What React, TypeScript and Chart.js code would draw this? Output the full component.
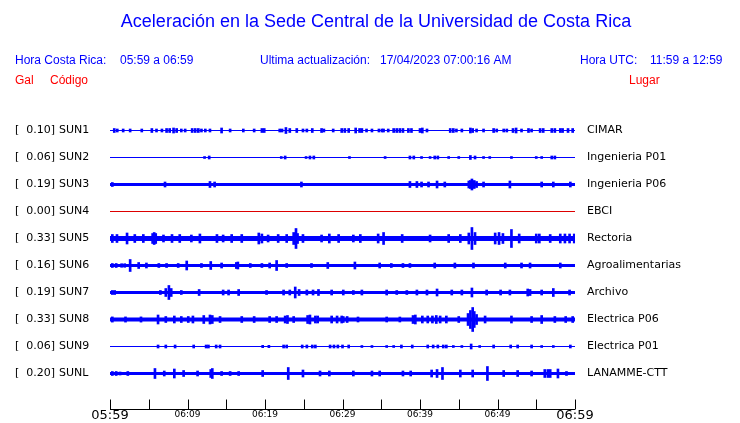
import { useEffect, useRef } from 'react';
import { Chart, registerables } from 'chart.js';

Chart.register(...registerables);

// ---- data ----
const titleText = 'Aceleración en la Sede Central de la Universidad de Costa Rica';
const codes = ['SUN1', 'SUN2', 'SUN3', 'SUN4', 'SUN5', 'SUN6', 'SUN7', 'SUN8', 'SUN9', 'SUNL'];
const peakGal = ['0.10', '0.06', '0.19', '0.00', '0.33', '0.16', '0.19', '0.33', '0.06', '0.20'];
const places = ['CIMAR', 'Ingenieria P01', 'Ingenieria P06', 'EBCI', 'Rectoria', 'Agroalimentarias', 'Archivo', 'Electrica P06', 'Electrica P01', 'LANAMME-CTT'];
const tickMinutes = [0, 10, 20, 30, 40, 50, 60];
const tickLabels = ['05:59', '06:09', '06:19', '06:29', '06:39', '06:49', '06:59'];

// background (noise) half-amplitude of each trace, amplitude units
const noiseLevel = [0.5, 0.5, 1.5, 0.5, 2.5, 1.5, 1.5, 2, 0.5, 1.5];

// bursts: [minute after 05:59, half-amplitude]
const sun1 = [[0.55,2],[0.94,1.5],[1.7,1.5],[2.6,1.5],[4.1,1.5],[5.4,2],[6.0,1.5],[6.7,1.5],[7.3,2],[7.7,2],[8.2,2.5],[8.6,2],[9.2,1.5],[9.7,1.5],[10.6,2],[11.0,2],[11.4,2],[11.8,1.5],[12.3,1.5],[12.9,1.5],[14.4,2.5],[15.5,1.5],[17.2,1.5],[18.6,1.5],[19.6,2],[19.9,2],[21.9,1.5],[22.2,1.5],[22.7,3],[23.2,2],[24.1,2],[24.9,1.5],[25.4,1.5],[26.1,2],[27.3,2],[27.6,1.5],[28.8,1.5],[29.9,2],[30.3,2],[30.8,2],[31.7,2.5],[32.2,2],[32.5,2],[33.1,1.5],[33.8,1.5],[34.7,1.5],[35.1,1.5],[35.3,1.5],[35.9,1.5],[36.6,2],[37.0,2],[37.4,2],[37.8,2],[38.5,2],[38.9,2],[40.0,2],[40.3,2.5],[40.9,1.5],[43.9,2],[44.3,2],[44.7,1.5],[45.4,1.5],[46.5,2.5],[46.8,2],[47.3,1.5],[48.2,1.5],[49.5,2],[49.9,1.5],[50.8,1.5],[51.2,1.5],[52.0,2],[52.4,2.5],[53.1,1.5],[54.0,2],[54.4,1.5],[55.5,2],[55.9,2],[57.0,2],[57.4,2],[58.1,2],[58.4,2],[59.1,2],[59.7,2]];
const sun2 = [[12.2,1],[12.8,1.5],[22.1,1],[22.6,1.5],[25.3,1],[25.8,1.5],[26.3,1.5],[30.9,1],[35.5,1],[38.7,1.5],[39.2,1.5],[40.2,1],[41.3,1],[41.9,1.5],[42.3,1.5],[43.7,1],[45.0,1],[46.5,2],[47.1,1.5],[48.2,1],[49.0,1],[51.8,1],[55.0,1],[55.7,1],[57.0,1.5],[57.4,1.5]];
const sun3 = [[0.3,2],[7.1,2.5],[12.9,3],[13.5,2.5],[24.7,2.5],[38.7,3],[39.6,3],[40.2,2.5],[41.1,2.5],[42.2,3.5],[43.2,2.5],[46.3,3.5],[46.5,4],[46.7,5.5],[47.0,4],[47.3,3],[48.2,2.5],[51.6,3.5],[55.7,2.5],[57.2,2.5],[59.4,2.5]];
const sun4: number[][] = [];
const sun5 = [[0.3,4],[0.9,4],[2.2,5.5],[3.2,4],[4.3,4],[5.5,5],[5.7,6],[5.9,5],[6.9,3.5],[8.0,4],[9.0,4],[10.5,3.5],[11.6,4.5],[13.8,4],[14.6,3.5],[15.7,4],[17.0,4],[19.2,5.5],[19.6,4.5],[20.4,3.5],[21.7,4],[22.8,4],[23.7,6],[24.0,10],[24.2,5],[24.9,4],[27.3,3.5],[28.3,4.5],[29.5,4],[31.4,3.5],[32.3,4],[34.6,4.5],[35.3,6],[37.7,4],[41.3,3.5],[43.7,4],[45.2,4],[46.3,5.5],[46.7,11],[47.1,6],[49.7,5.5],[50.2,6],[50.7,5],[51.8,9],[52.8,4.5],[55.0,4.5],[55.4,4.5],[56.8,4],[58.1,4.5],[58.7,4.5],[59.3,4.5],[59.9,4.5]];
const sun6 = [[0.3,2],[0.8,2],[1.5,1.8],[1.9,1.8],[2.6,6],[3.7,3],[4.7,2.5],[6.3,2],[7.3,2],[8.8,2],[9.9,4.5],[11.8,2],[13.0,4],[14.4,2.5],[16.3,3],[16.5,3.5],[18.1,2],[19.6,2],[20.6,2.5],[21.5,5],[22.8,2],[26.0,2],[28.1,3],[31.6,3.5],[34.8,2.5],[36.3,2],[37.8,2],[38.7,2],[41.9,2.5],[44.5,2.5],[46.9,2.5],[51.0,2.5],[53.1,2.5],[54.2,2.5],[58.1,2.5]];
const sun7 = [[0.3,2],[0.6,2],[6.5,2],[7.2,4],[7.6,7],[7.9,4],[9.2,2],[11.5,3],[14.6,2.5],[15.3,2.5],[16.6,3],[20.2,2],[22.4,2.5],[23.2,2.5],[23.9,5.5],[24.4,3],[25.4,2.5],[26.2,2.5],[26.9,3],[28.6,2.5],[30.1,2.5],[31.4,2],[32.5,2.5],[35.7,2.5],[37.0,2],[38.3,2],[39.6,2.5],[40.9,2.5],[42.2,3.5],[44.1,2.5],[45.4,2.5],[46.7,4.5],[48.6,2.5],[50.4,2.5],[51.6,2.5],[53.9,3.5],[54.2,3],[55.7,2.5],[57.2,4],[59.3,2.5]];
const sun8 = [[0.3,2.6],[2.0,2.6],[4.0,2.6],[6.2,4.5],[7.2,3],[8.3,3.5],[9.2,3],[10.1,3],[10.7,3.5],[12.1,4],[12.9,4.5],[13.2,4],[14.2,3],[17.0,3],[18.6,3],[20.6,3],[21.5,3],[22.6,3.5],[22.9,4],[23.7,3],[25.5,4],[25.8,4.5],[26.5,3.5],[26.8,3.5],[28.6,3.5],[29.3,3.5],[29.9,3.5],[30.1,3],[30.6,3],[32.0,2.5],[35.7,2.5],[37.4,2.5],[39.1,4],[39.4,4.5],[40.3,3.5],[41.0,3.5],[41.6,3.5],[42.1,4],[42.6,3.5],[43.4,3.5],[45.0,3],[46.2,6],[46.5,9],[46.8,12],[47.0,8],[47.3,5],[48.4,3.5],[51.8,3.5],[54.4,3],[55.7,4],[57.4,3],[58.8,3],[59.7,3]];
const sun9 = [[6.2,1.5],[7.2,1.5],[8.4,1.5],[10.8,1.5],[12.4,1.5],[12.7,1.5],[13.7,1.5],[14.2,1.5],[19.7,1.2],[20.5,1.2],[22.4,1.5],[22.8,1.5],[24.8,1.5],[25.4,1.5],[26.1,1.5],[26.5,1.5],[28.4,1.5],[28.9,1.5],[29.4,1.5],[30.0,1.5],[30.8,1.5],[32.5,1],[33.8,1],[35.7,1],[36.6,1],[37.6,1.5],[39.0,1.5],[41.0,1.5],[41.7,1.5],[42.3,1.5],[43.0,1.5],[43.4,1.5],[44.3,1],[45.4,1],[46.6,2.5],[47.7,1],[49.5,1.5],[51.7,1.5],[52.6,1.5],[54.4,1.5],[55.7,1],[57.2,1],[59.4,1.5]];
const sunL = [[0.3,2],[0.8,2],[1.3,1.5],[2.3,2],[5.8,5],[7.0,2.5],[8.3,4.5],[9.5,3],[11.3,2.5],[13.0,4],[13.2,5],[14.4,2],[15.5,2],[16.6,2],[19.7,3],[23.0,6],[24.9,3.5],[27.1,2.5],[28.3,2.5],[31.4,2.5],[33.8,2.5],[34.8,2.5],[37.8,2.5],[38.8,2.5],[41.5,3.5],[42.2,4],[42.9,6],[45.2,3.5],[46.8,3.5],[48.7,7],[50.8,3],[52.6,3],[54.4,2.5],[56.1,4],[56.5,4],[56.8,4],[57.8,4.5],[58.9,2]];
const bursts = [sun1, sun2, sun3, sun4, sun5, sun6, sun7, sun8, sun9, sunL];

// ---- styles ----
const BLUE = '#0000ff';
const RED = '#ff0000';
const traceColors = [BLUE, BLUE, BLUE, '#dd0000', BLUE, BLUE, BLUE, BLUE, BLUE, BLUE];
const AMP_PER_ROW = 27; // amplitude units per trace spacing

export default function App() {
  const ref = useRef<HTMLCanvasElement | null>(null);

  useEffect(() => {
    const canvas = ref.current;
    if (!canvas) return;

    const datasets: any[] = [];
    codes.forEach((_, i) => {
      datasets.push({
        type: 'line',
        data: [{ x: 0, y: i }, { x: 60, y: i }],
        borderColor: traceColors[i],
        borderWidth: noiseLevel[i] * 2,
        pointRadius: 0,
        borderCapStyle: 'butt',
        order: 2,
      });
      datasets.push({
        type: 'bar',
        data: bursts[i].map(([t, a]) => ({ x: t, y: [i - a / AMP_PER_ROW, i + a / AMP_PER_ROW] })),
        backgroundColor: traceColors[i],
        borderWidth: 0,
        barThickness: 2,
        grouped: false,
        order: 1,
      });
    });

    const textPlugin = {
      id: 'seismoText',
      afterDraw(chart: any) {
        const ctx = chart.ctx as CanvasRenderingContext2D;
        const xs = chart.scales.x;
        const ys = chart.scales.y;
        ctx.save();
        ctx.textBaseline = 'middle';
        // title
        ctx.fillStyle = BLUE;
        ctx.textAlign = 'center';
        ctx.font = '18px "Liberation Sans", Arial, sans-serif';
        ctx.fillText(titleText, 376, 22);
        // info row
        ctx.textAlign = 'left';
        ctx.font = '12px "Liberation Sans", Arial, sans-serif';
        ctx.fillText('Hora Costa Rica:', 15, 61);
        ctx.fillText('05:59 a 06:59', 120, 61);
        ctx.fillText('Ultima actualización:', 260, 61);
        ctx.fillText('17/04/2023 07:00:16 AM', 380, 61);
        ctx.fillText('Hora UTC:', 580, 61);
        ctx.fillText('11:59 a 12:59', 650, 61);
        ctx.fillStyle = RED;
        ctx.fillText('Gal', 15, 81);
        ctx.fillText('Código', 50, 81);
        ctx.fillText('Lugar', 629, 81);
        // station labels
        ctx.fillStyle = '#000';
        ctx.font = '11px "DejaVu Sans", sans-serif';
        codes.forEach((c, i) => {
          const y = ys.getPixelForValue(i);
          ctx.textAlign = 'left';
          ctx.fillText('[', 15, y);
          ctx.textAlign = 'right';
          ctx.fillText(peakGal[i] + ']', 55, y);
          ctx.textAlign = 'left';
          ctx.fillText(c, 59, y);
          ctx.fillText(places[i], 587, y);
        });
        // time axis
        const axisY = 409.5;
        ctx.strokeStyle = '#000';
        ctx.lineWidth = 1;
        ctx.beginPath();
        ctx.moveTo(xs.getPixelForValue(0), axisY);
        ctx.lineTo(xs.getPixelForValue(60), axisY);
        for (let m = 0; m <= 60; m += 5) {
          const px = Math.round(xs.getPixelForValue(m)) + 0.5;
          ctx.moveTo(px, axisY);
          ctx.lineTo(px, axisY - 10);
        }
        ctx.stroke();
        ctx.textAlign = 'center';
        tickMinutes.forEach((m, k) => {
          const big = k === 0 || k === tickMinutes.length - 1;
          ctx.font = big ? '13px "DejaVu Sans", sans-serif' : '9px "DejaVu Sans", sans-serif';
          ctx.fillText(tickLabels[k], xs.getPixelForValue(m), big ? 416 : 415);
        });
        ctx.restore();
      },
    };

    const chart = new Chart(canvas, {
      type: 'bar',
      data: { datasets },
      options: {
        animation: false,
        responsive: false,
        events: [],
        layout: { padding: { left: 110, right: 165, top: 117, bottom: 36 } },
        scales: {
          x: { type: 'linear', min: 0, max: 60, display: false, offset: false },
          y: { type: 'linear', min: -0.5, max: 9.5, reverse: true, display: false },
        },
        plugins: { legend: { display: false }, tooltip: { enabled: false }, title: { display: false } },
      },
      plugins: [textPlugin],
    } as any);

    return () => chart.destroy();
  }, []);

  return (
    <div style={{ position: 'absolute', left: 0, top: 0, width: 740, height: 423, background: '#fff' }}>
      <canvas ref={ref} width={740} height={423} style={{ display: 'block' }} />
    </div>
  );
}
